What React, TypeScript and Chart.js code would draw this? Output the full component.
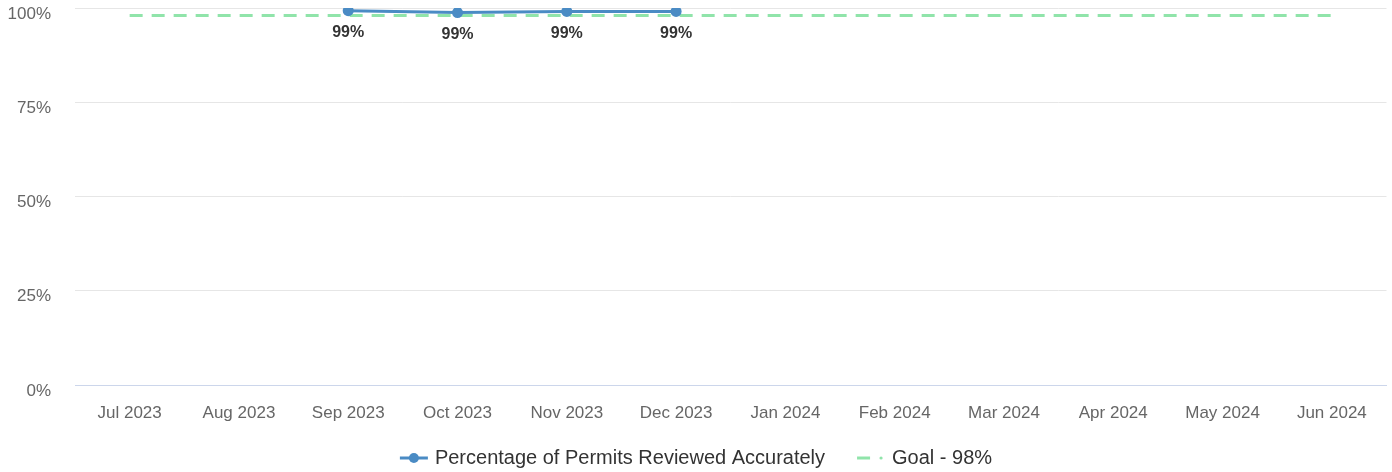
import React, { useEffect, useRef } from "react";
import { Chart, registerables } from "chart.js";

Chart.register(...registerables);

const categories = [
  "Jul 2023", "Aug 2023", "Sep 2023", "Oct 2023", "Nov 2023", "Dec 2023",
  "Jan 2024", "Feb 2024", "Mar 2024", "Apr 2024", "May 2024", "Jun 2024",
];
const accuracyValues: (number | null)[] = [null, null, 99.3, 98.8, 99.1, 99.1, null, null, null, null, null, null];
const goalValues = [98, 98, 98, 98, 98, 98, 98, 98, 98, 98, 98, 98];
const seriesNames = ["Percentage of Permits Reviewed Accurately", "Goal - 98%"];
const yTicks = [0, 25, 50, 75, 100];

const FONT = "'Liberation Sans', Arial, sans-serif";
const BLUE = "#4a8bc4";
const GREEN = "#90e4aa";

const labelPlugin = {
  id: "pointLabels",
  afterDatasetsDraw(chart: any) {
    const ctx = chart.ctx;
    const meta = chart.getDatasetMeta(0);
    const data = chart.data.datasets[0].data;
    ctx.save();
    ctx.font = `bold 16px ${FONT}`;
    ctx.fillStyle = "#333333";
    ctx.textAlign = "center";
    ctx.textBaseline = "middle";
    meta.data.forEach((pt: any, i: number) => {
      const v = data[i];
      if (v === null || v === undefined) return;
      ctx.fillText(Math.round(v) + "%", pt.x, pt.y + 22);
    });
    ctx.restore();
  },
};

const legendPlugin = {
  id: "customLegend",
  afterDraw(chart: any) {
    const ctx = chart.ctx;
    ctx.save();
    ctx.font = `20px ${FONT}`;
    const w1 = ctx.measureText(seriesNames[0]).width;
    const w2 = ctx.measureText(seriesNames[1]).width;
    const sym1 = 28, gap1 = 7, spacing = 32, sym2 = 26, gap2 = 9;
    const total = sym1 + gap1 + w1 + spacing + sym2 + gap2 + w2;
    let x = chart.width / 2 - total / 2;
    const y = 458;
    ctx.strokeStyle = BLUE;
    ctx.lineWidth = 3;
    ctx.beginPath();
    ctx.moveTo(x, y);
    ctx.lineTo(x + sym1, y);
    ctx.stroke();
    ctx.fillStyle = BLUE;
    ctx.beginPath();
    ctx.arc(x + sym1 / 2, y, 5, 0, Math.PI * 2);
    ctx.fill();
    x += sym1 + gap1;
    ctx.fillStyle = "#333333";
    ctx.textAlign = "left";
    ctx.textBaseline = "middle";
    ctx.fillText(seriesNames[0], x, y);
    x += w1 + spacing;
    ctx.strokeStyle = GREEN;
    ctx.beginPath();
    ctx.moveTo(x, y);
    ctx.lineTo(x + 13, y);
    ctx.stroke();
    ctx.fillStyle = GREEN;
    ctx.beginPath();
    ctx.arc(x + 24, y, 1.6, 0, Math.PI * 2);
    ctx.fill();
    x += sym2 + gap2;
    ctx.fillStyle = "#333333";
    ctx.fillText(seriesNames[1], x, y);
    ctx.restore();
  },
};

export default function App() {
  const ref = useRef<HTMLCanvasElement | null>(null);
  useEffect(() => {
    if (!ref.current) return;
    const chart = new Chart(ref.current, {
      type: "line",
      data: {
        labels: categories,
        datasets: [
          {
            label: seriesNames[0],
            data: accuracyValues,
            borderColor: BLUE,
            backgroundColor: BLUE,
            borderWidth: 3,
            pointRadius: 5.5,
            pointBackgroundColor: BLUE,
            pointBorderWidth: 0,
            tension: 0,
            spanGaps: false,
          },
          {
            label: seriesNames[1],
            data: goalValues,
            borderColor: GREEN,
            backgroundColor: GREEN,
            borderWidth: 3,
            borderDash: [13, 9],
            pointRadius: 0,
            tension: 0,
          },
        ],
      },
      options: {
        responsive: false,
        animation: false,
        layout: { padding: { top: 8, right: 4, left: 0, bottom: 47 } },
        plugins: {
          legend: { display: false },
          tooltip: { enabled: false },
        },
        scales: {
          x: {
            offset: true,
            grid: { display: false, drawTicks: false },
            border: { display: true, color: "#ccd6eb", width: 1 },
            ticks: {
              color: "#666666",
              font: { family: FONT, size: 17 },
              padding: 18,
              maxRotation: 0,
              autoSkip: false,
            },
            afterFit(scale: any) {
              scale.height = 40;
            },
          },
          y: {
            min: 0,
            max: 100,
            afterBuildTicks(scale: any) {
              scale.ticks = yTicks.map((v) => ({ value: v }));
            },
            grid: {
              color: (c: any) => (c.tick && c.tick.value === 0 ? "#ccd6eb" : "#e6e6e6"),
              drawTicks: false,
              lineWidth: 1,
            },
            border: { display: false },
            ticks: {
              color: "#666666",
              font: { family: FONT, size: 17 },
              padding: 24,
              labelOffset: 6,
              callback: (v: any) => v + "%",
            },
            afterFit(scale: any) {
              scale.width = 75;
              scale.paddingTop = 0;
              scale.paddingBottom = 0;
            },
          },
        },
      },
      plugins: [labelPlugin, legendPlugin],
    });
    return () => chart.destroy();
  }, []);
  return (
    <div style={{ position: "fixed", left: 0, top: 0, width: 1392, height: 472, background: "#ffffff" }}>
      <canvas ref={ref} width={1392} height={472} style={{ display: "block" }} />
    </div>
  );
}
